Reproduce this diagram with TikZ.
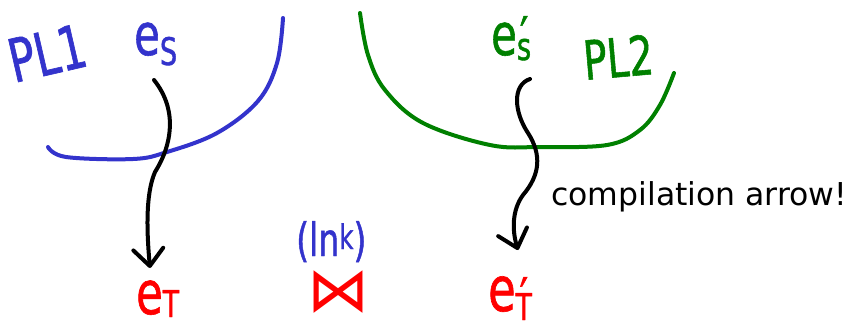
\documentclass[tikz,border=0pt]{standalone}
\usepackage{fontspec}
\setmainfont{DejaVu Sans}
\newfontfamily\hand[FakeStretch=0.72,FakeBold=1]{DejaVu Sans}
\usetikzlibrary{arrows.meta,calc}
\definecolor{hblue}{RGB}{51,51,204}
\definecolor{hgreen}{RGB}{0,128,0}
\definecolor{hred}{RGB}{255,0,0}
\newcommand{\fs}[1]{\fontsize{#1}{#1}\selectfont}
\begin{document}
\begin{tikzpicture}[x=1pt,y=-1pt,
  stroke/.style={line width=4pt, line cap=round, line join=round},
  arr/.style={stroke, black, -{Straight Barb[length=17pt,width=30pt,round]}},
  hand/.style={inner sep=0pt, anchor=base west, font=\hand}]
\useasboundingbox[fill=white] (0,0) rectangle (853,325);

% bubbles
\draw[stroke, hblue] plot[smooth, tension=0.6] coordinates {(48,147) (66,157) (133,159) (167,152) (217,133) (258,101) (277,63) (283,18)};
\draw[stroke, hgreen] plot[smooth, tension=0.6] coordinates {(360,13) (368,55) (385,90) (423,123) (490,145) (540,147) (607,145) (640,130) (660,105) (674,73)};

% labels
\node[hand, text=hblue, rotate=13] (pl1) at (14,83) {\fs{60}PL1};
\node[hand, text=hblue] (es) at (134,55) {\fs{58}e\raisebox{-10pt}{\fs{38}S}};
\node[hand, text=hgreen] (esp) at (491,55) {\fs{58}e\raisebox{-5pt}{\fs{38}\makebox[0pt][l]{\hspace{3pt}\raisebox{6pt}{\fs{52}′}}s}};
\node[hand, text=hgreen, rotate=5] (pl2) at (585,80) {\fs{54}PL2};
\node[hand, text=hred] (et) at (136,314) {\fs{60}e\raisebox{-3pt}{\fs{37}T}};
\node[hand, text=hred] (etp) at (488,311) {\fs{62}e\raisebox{-9pt}{\fs{37}\makebox[0pt][l]{\hspace{4pt}\raisebox{5pt}{\fs{52}′}}T}};
\node[hand, text=hblue] (lnk) at (296,256) {\fs{46}(ln\raisebox{7pt}{\fs{34}k})};
\node[inner sep=0pt, text=hred, font=\fs{62}] (join) at (338,292) {⋈};
\node[inner sep=0pt, anchor=base west, font=\fs{31.5}] (lbl) at (551,205) {compilation arrow!};

% compilation arrows
\draw[arr] ($(es.base west)+(20,25)$) .. controls (178,110) and (172,145) .. (155,172)
  .. controls (145,195) and (147,235) .. ($(et.base west)+(14,-46)$);
\draw[arr] ($(esp.base west)+(39,24)$) .. controls (512,85) and (514,112) .. (528,133)
  .. controls (542,155) and (540,175) .. (523,195)
  .. controls (512,210) and (512,230) .. ($(etp.base west)+(30,-61)$);
\end{tikzpicture}
\end{document}
